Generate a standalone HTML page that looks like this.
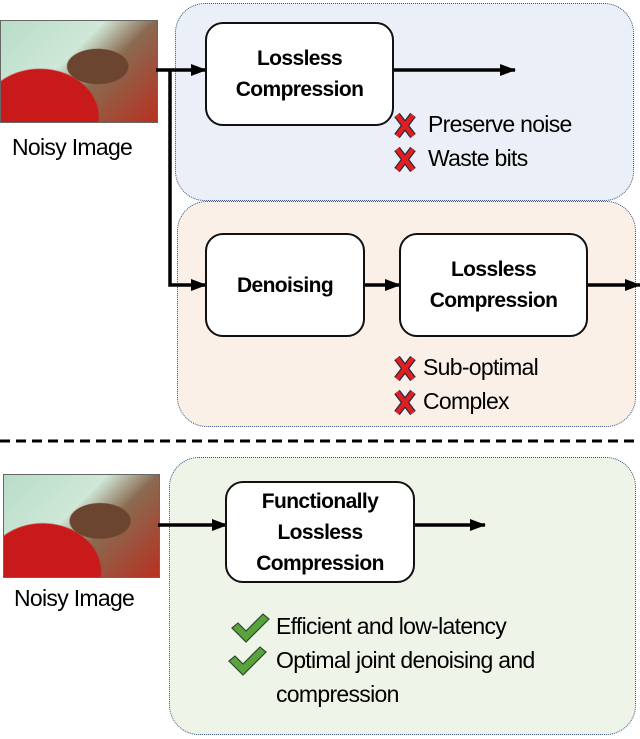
<!DOCTYPE html>
<html><head><style>
body{margin:0;width:640px;height:739px;background:#fff;position:relative;overflow:hidden;font-family:"Liberation Sans",sans-serif}
.a{position:absolute}
.panel{position:absolute;border:1.5px dotted #3a5580;border-radius:30px}
.box{position:absolute;background:#fff;border:2px solid #111;border-radius:18px;display:flex;align-items:center;justify-content:center;text-align:center;font-weight:bold;font-size:21px;line-height:31px;letter-spacing:-0.6px}
.t{position:absolute;font-size:23px;letter-spacing:-0.7px;white-space:nowrap}
.img{position:absolute;background:radial-gradient(ellipse at 62% 45%,#6b4530 0 22%,transparent 23%),radial-gradient(ellipse at 25% 95%,#c81a1a 0 35%,transparent 36%),linear-gradient(135deg,#b8dcc8,#cfe8d8 40%,#8a6a50 60%,#b83020);border:1px solid #666}
</style></head><body>
<div class="panel" style="left:175px;top:3px;width:457px;height:196px;background:#ebf0f8"></div>
<div class="panel" style="left:177px;top:201px;width:457px;height:224px;background:#fbf0e8"></div>
<div class="panel" style="left:169px;top:457px;width:465px;height:276px;background:#eef4e8"></div>
<div class="img" style="left:0;top:20px;width:156px;height:101px"></div>
<div class="img" style="left:3px;top:474px;width:155px;height:102px"></div>
<div class="t" style="left:12px;top:134px">Noisy Image</div>
<div class="t" style="left:14px;top:585px">Noisy Image</div>
<svg class="a" style="left:0;top:0" width="640" height="739">
<defs><marker id="ah" markerWidth="16" markerHeight="12" refX="15" refY="6" orient="auto" markerUnits="userSpaceOnUse"><path d="M0,0L16,6L0,12z" fill="#000"/></marker></defs>
<g stroke="#000" stroke-width="3.5" fill="none">
<path d="M156,70H206" marker-end="url(#ah)"/>
<path d="M170,70V285H206" marker-end="url(#ah)"/>
<path d="M392,70H515" marker-end="url(#ah)"/>
<path d="M365,285H400" marker-end="url(#ah)"/>
<path d="M582,285H640" marker-end="url(#ah)"/>
<path d="M158,525H227" marker-end="url(#ah)"/>
<path d="M413,525H485" marker-end="url(#ah)"/>
</g>
<line x1="0" y1="441" x2="640" y2="441" stroke="#000" stroke-width="3" stroke-dasharray="10,6"/>
<g stroke="#2a2a40" stroke-width="7" stroke-linecap="butt">
<path d="M397,115l16,21M413,115l-16,21M397,149l16,21M413,149l-16,21M397,358l16,21M413,358l-16,21M397,392l16,21M413,392l-16,21"/>
</g>
<g stroke="#e02020" stroke-width="4.5">
<path d="M397,115l16,21M413,115l-16,21M397,149l16,21M413,149l-16,21M397,358l16,21M413,358l-16,21M397,392l16,21M413,392l-16,21"/>
</g>
<g fill="#5aa23a" stroke="#2a4a30" stroke-width="1.2">
<path d="M232,628l6,-5l8,8l17,-17l6,5l-23,23z"/>
<path d="M229,661l6,-5l8,8l17,-17l6,5l-23,23z"/>
</g>
</svg>
<div class="box" style="left:205px;top:22px;width:185px;height:100px">Lossless<br>Compression</div>
<div class="box" style="left:205px;top:233px;width:156px;height:100px">Denoising</div>
<div class="box" style="left:399px;top:233px;width:185px;height:100px">Lossless<br>Compression</div>
<div class="box" style="left:225px;top:481px;width:186px;height:98px">Functionally<br>Lossless<br>Compression</div>
<div class="t" style="left:428px;top:111px">Preserve noise</div>
<div class="t" style="left:428px;top:145px">Waste bits</div>
<div class="t" style="left:423px;top:354px">Sub-optimal</div>
<div class="t" style="left:423px;top:388px">Complex</div>
<div class="t" style="left:276px;top:613px">Efficient and low-latency</div>
<div class="t" style="left:276px;top:647px">Optimal joint denoising and</div>
<div class="t" style="left:276px;top:681px">compression</div>
</body></html>
